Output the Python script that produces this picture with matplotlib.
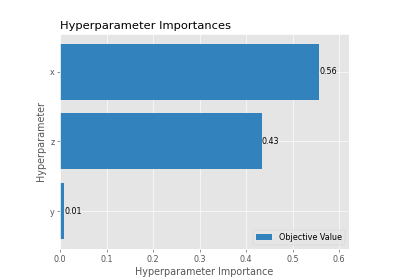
import matplotlib
matplotlib.use('Agg')
import matplotlib.pyplot as plt

plt.style.use('ggplot')

params = ['y', 'z', 'x']
importances = [0.009, 0.434, 0.557]
labels = ['0.01', '0.43', '0.56']

# small dpi so the default ggplot sizes shrink to the reference scale
DPI = 57.5
fig = plt.figure(figsize=(400 / DPI, 280 / DPI), dpi=DPI)
ax = fig.add_axes([0.15, 0.111, 0.722, 0.768])

bars = ax.barh(params, importances, height=0.8, color='#3182bd',
               align='center', label='Objective Value')
for rect, lab in zip(bars, labels):
    ax.text(rect.get_width(), rect.get_y() + rect.get_height() / 2, lab,
            ha='left', va='center', color='black')

ax.set_xlim(0, 0.621)
ax.set_xticks([0.0, 0.1, 0.2, 0.3, 0.4, 0.5, 0.6])
ax.set_title('Hyperparameter Importances', loc='left')
ax.set_xlabel('Hyperparameter Importance')
ax.set_ylabel('Hyperparameter')
ax.legend(loc='lower right')

fig.savefig('out.png', dpi=DPI)
